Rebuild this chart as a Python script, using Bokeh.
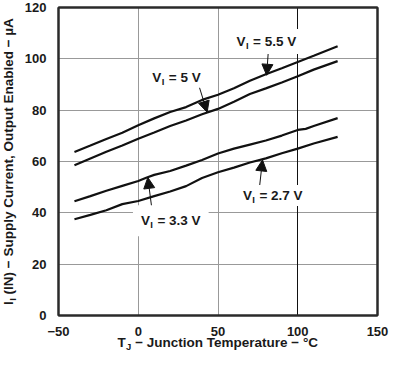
import math
from bokeh.plotting import figure
from bokeh.models import Range1d, FixedTicker, Label, Arrow, NormalHead, Grid, LinearAxis, BoxAnnotation
from bokeh.embed import file_html
from bokeh.resources import INLINE

# ---- data ----
t_55 = [-40, -30, -20, -10, 0, 10, 20, 30, 40, 50, 60, 70, 80, 90, 100, 110, 125]
i_55 = [63.7, 66.2, 68.8, 71.2, 74.1, 76.8, 79.3, 81.2, 84.0, 86.0, 88.5, 91.5, 94.0, 96.3, 98.8, 101.2, 104.9]

t_50 = [-40, -30, -20, -10, 0, 10, 20, 30, 40, 50, 60, 70, 80, 90, 100, 110, 125]
i_50 = [58.5, 61.2, 63.8, 66.2, 68.9, 71.3, 73.8, 76.0, 78.4, 80.5, 83.3, 86.3, 88.5, 90.8, 93.2, 95.8, 99.1]

t_33 = [-40, -30, -20, -10, 0, 5, 10, 20, 30, 40, 50, 60, 70, 80, 90, 100, 105, 110, 125]
i_33 = [44.5, 46.5, 48.6, 50.5, 52.4, 53.7, 54.8, 56.3, 58.4, 60.6, 63.1, 65.0, 66.6, 68.2, 70.1, 72.3, 72.7, 73.8, 76.9]

t_27 = [-40, -30, -20, -10, 0, 10, 20, 30, 40, 50, 60, 70, 80, 90, 100, 110, 125]
i_27 = [37.5, 39.2, 41.0, 43.4, 44.6, 46.5, 48.3, 50.4, 53.6, 55.8, 57.6, 59.6, 61.2, 63.2, 65.0, 67.0, 69.6]

x_ticks = [-50, 0, 50, 100, 150]
y_ticks = [0, 20, 40, 60, 80, 100, 120]
x_tick_labels = {-50: "\u221250", 0: "0", 50: "50", 100: "100", 150: "150"}

FONT = "Liberation Sans"
TXT = "#1a1a1a"
NB = "\u00a0"
FRAME = "#2a2a2a"

# layout: canvas 389x355; plot box in canvas pixels
W, H = 389, 355
BL, BR, BT, BB = 58, 377, 7, 315
XMIN, XMAX, YMIN, YMAX = -50, 150, 0, 120
sx = (BR - BL) / (XMAX - XMIN)
sy = (BB - BT) / (YMAX - YMIN)
x_range = Range1d(XMIN - BL / sx, XMAX + (W - BR) / sx)
y_range = Range1d(YMIN - (H - BB) / sy, YMAX + BT / sy)

p = figure(width=W, height=H, x_range=x_range, y_range=y_range,
           output_backend="svg", toolbar_location=None,
           min_border=0, min_border_left=0, min_border_right=0, min_border_top=0, min_border_bottom=0)
p.background_fill_color = "white"
p.border_fill_color = "white"
p.outline_line_color = None

for ax, ticks in ((p.xaxis, x_ticks), (p.yaxis, y_ticks)):
    ax.ticker = FixedTicker(ticks=ticks)
    ax.axis_line_color = FRAME
    ax.axis_line_width = 2
    ax.major_tick_line_color = None
    ax.minor_tick_line_color = None
    ax.major_label_text_font = FONT
    ax.major_label_text_font_style = "bold"
    ax.major_label_text_font_size = "13px"
    ax.major_label_text_color = TXT
p.xaxis.fixed_location = YMIN
p.yaxis.fixed_location = XMIN
p.xaxis.bounds = (XMIN, XMAX)
p.yaxis.bounds = (YMIN, YMAX)
p.xaxis.major_label_standoff = 5
p.yaxis.major_label_standoff = 6
p.xaxis.major_label_overrides = x_tick_labels

# top and right frame edges as bare axes
top_ax = LinearAxis(fixed_location=YMAX, bounds=(XMIN, XMAX), ticker=FixedTicker(ticks=[]),
                    axis_line_color=FRAME, axis_line_width=2, major_tick_line_color=None,
                    minor_tick_line_color=None, major_label_text_alpha=0)
right_ax = LinearAxis(fixed_location=XMAX, bounds=(YMIN, YMAX), ticker=FixedTicker(ticks=[]),
                      axis_line_color=FRAME, axis_line_width=2, major_tick_line_color=None,
                      minor_tick_line_color=None, major_label_text_alpha=0)
p.add_layout(top_ax, "above")
p.add_layout(right_ax, "right")

p.xgrid.ticker = FixedTicker(ticks=x_ticks)
p.ygrid.ticker = FixedTicker(ticks=y_ticks)
p.grid.grid_line_color = "#999999"
p.grid.grid_line_width = 1
p.xgrid.bounds = (XMIN, XMAX)
p.ygrid.bounds = (YMIN, YMAX)
p.xgrid.cross_bounds = (YMIN, YMAX)
p.ygrid.cross_bounds = (XMIN, XMAX)

dark = Grid(dimension=0, ticker=FixedTicker(ticks=[100]), grid_line_color="#111111", grid_line_width=1,
            bounds=(XMIN, XMAX), cross_bounds=(YMIN, YMAX))
p.add_layout(dark)

# frame border (second means, in case axis lines are not drawn)
p.add_layout(BoxAnnotation(left=XMIN, right=XMAX, bottom=YMIN, top=YMAX, fill_color=None,
                           line_color=FRAME, line_alpha=1.0, line_width=2, level="underlay"))

for t, i in ((t_55, i_55), (t_50, i_50), (t_33, i_33), (t_27, i_27)):
    p.line(t, i, line_color="#111111", line_width=2.2)

# arrows (tail -> tip), data coords
arrows = [
    (81.5, 102.5, 80.5, 93.6),
    (38.4, 88.8, 43.2, 79.2),
    (8.6, 41.3, 6.0, 53.8),
    (76.1, 50.5, 77.9, 60.6),
]
for xs, ys, xe, ye in arrows:
    p.add_layout(Arrow(x_start=xs, y_start=ys, x_end=xe, y_end=ye, line_color="#111111", line_width=1,
                       end=NormalHead(size=11, fill_color="#111111", line_color="#111111")))

def lab(x, y, text, size, xo=0.0, yo=0.0, angle=0.0, **kw):
    p.add_layout(Label(x=x, y=y, x_offset=xo, y_offset=yo, text=text, angle=angle,
                       text_font=FONT, text_font_style="bold", text_font_size=size, text_color=TXT,
                       text_align="left", text_baseline="middle", **kw))

def vlabel(x, y, val, pad):
    lab(x, y, "V" + NB + NB + "=" + NB + val, "13.5px", xo=-pad,
        background_fill_color="white", padding=pad)
    lab(x, y, "I", "9.5px", xo=9.4, yo=-4)

vlabel(61.6, 106.8, "5.5" + NB + "V", 5)
vlabel(8.8, 92.9, "5" + NB + "V", 3)
vlabel(1.7, 36.9, "3.3" + NB + "V", 8)
vlabel(65.6, 46.8, "2.7" + NB + "V", 3)

# x axis label with subscript
xo = -100.5
lab(50, YMIN, "T", "13.5px", xo=xo, yo=-27)
lab(50, YMIN, "J", "9.5px", xo=xo + 8.4, yo=-31)
lab(50, YMIN, NB + "\u2212 Junction Temperature \u2212 \u00b0C", "13.5px", xo=xo + 13.9, yo=-27)

# y axis label (rotated) with subscript
yo = -143.5
lab(XMIN, 60, "I", "13.5px", xo=-50, yo=yo, angle=math.pi / 2)
lab(XMIN, 60, "I", "9.5px", xo=-46, yo=yo + 4.2, angle=math.pi / 2)
lab(XMIN, 60, NB + "(IN) \u2212 Supply Current, Output Enabled \u2212 \u00b5A", "13.5px",
    xo=-50, yo=yo + 6.8, angle=math.pi / 2)

open("out.html", "w").write(file_html(p, INLINE))
